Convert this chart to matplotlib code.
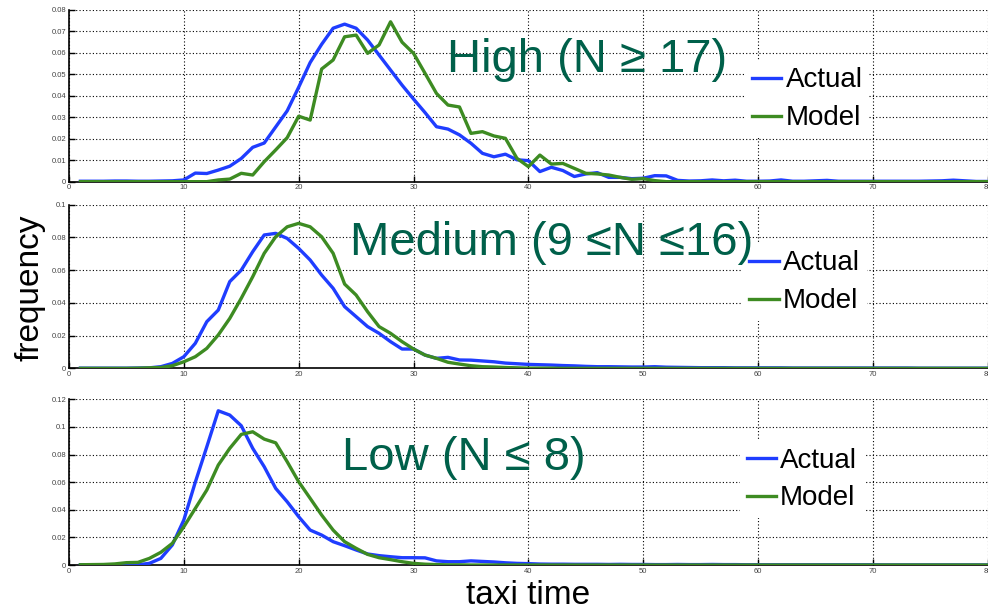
import numpy as np
import matplotlib
matplotlib.use("Agg")
from matplotlib import pyplot as plt

plt.rcParams["font.family"] = ["Liberation Sans", "DejaVu Sans"]

taxi_time = np.arange(1, 81)

high_actual = [
    0.0002, 0.0002, 0.0002, 0.0003, 0.0003, 0.0002, 0.0002, 0.0003, 0.0004, 0.0008,
    0.0040, 0.0038, 0.0054, 0.0072, 0.0108, 0.0160, 0.0180, 0.0255, 0.0330, 0.0440,
    0.0555, 0.0640, 0.0715, 0.0734, 0.0715, 0.0660, 0.0590, 0.0520, 0.0450, 0.0385,
    0.0322, 0.0256, 0.0245, 0.0218, 0.0179, 0.0132, 0.0116, 0.0128, 0.0102, 0.0098,
    0.0047, 0.0067, 0.0052, 0.0024, 0.0036, 0.0042, 0.0020, 0.0020, 0.0014, 0.0016,
    0.0028, 0.0027, 0.0006, 0.0003, 0.0004, 0.0008, 0.0004, 0.0007, 0.0002, 0.0002,
    0.0003, 0.0008, 0.0002, 0.0002, 0.0004, 0.0006, 0.0002, 0.0002, 0.0002, 0.0002,
    0.0002, 0.0002, 0.0002, 0.0002, 0.0003, 0.0004, 0.0007, 0.0004, 0.0001, 0.0001,
]
high_model = [
    0, 0, 0, 0, 0, 0, 0, 0, 0, 0,
    0, 0, 0.0008, 0.0012, 0.0039, 0.0031, 0.0093, 0.0148, 0.0205, 0.0305,
    0.0287, 0.0525, 0.0567, 0.0675, 0.0683, 0.0598, 0.0637, 0.0745, 0.0650, 0.0598,
    0.0505, 0.0411, 0.0357, 0.0348, 0.0225, 0.0233, 0.0213, 0.0202, 0.0109, 0.0070,
    0.0124, 0.0082, 0.0085, 0.0062, 0.0039, 0.0036, 0.0031, 0.0020, 0.0011, 0.0014,
    0.0005, 0, 0, 0, 0, 0, 0, 0, 0, 0,
    0, 0, 0, 0, 0, 0, 0, 0, 0, 0,
    0, 0, 0, 0, 0, 0, 0, 0, 0, 0,
]

med_actual = [
    0.0001, 0.0001, 0.0001, 0.0001, 0.0001, 0.0002, 0.0003, 0.0010, 0.0030, 0.0071,
    0.0153, 0.0285, 0.0356, 0.0530, 0.0600, 0.0713, 0.0815, 0.0825, 0.0794, 0.0733,
    0.0662, 0.0570, 0.0489, 0.0377, 0.0316, 0.0255, 0.0214, 0.0163, 0.0118, 0.0118,
    0.0081, 0.0061, 0.0067, 0.0051, 0.0050, 0.0045, 0.0040, 0.0032, 0.0028, 0.0024,
    0.0022, 0.0020, 0.0017, 0.0015, 0.0012, 0.0010, 0.0010, 0.0009, 0.0008, 0.0008,
    0.0010, 0.0007, 0.0006, 0.0005, 0.0004, 0.0004, 0.0004, 0.0003, 0.0003, 0.0003,
    0.0003, 0.0003, 0.0002, 0.0002, 0.0002, 0.0002, 0.0002, 0.0002, 0.0002, 0.0002,
    0.0002, 0.0002, 0.0002, 0.0001, 0.0001, 0.0001, 0.0001, 0.0001, 0.0001, 0.0001,
]
med_model = [
    0, 0, 0, 0, 0, 0.0001, 0.0003, 0.0005, 0.0016, 0.0040,
    0.0071, 0.0122, 0.0204, 0.0305, 0.0428, 0.0560, 0.0703, 0.0804, 0.0865, 0.0886,
    0.0865, 0.0804, 0.0703, 0.0515, 0.0448, 0.0346, 0.0255, 0.0214, 0.0163, 0.0118,
    0.0081, 0.0061, 0.0037, 0.0026, 0.0016, 0.0010, 0.0008, 0.0005, 0.0003, 0.0001,
    0.0001, 0.0001, 0, 0, 0, 0, 0, 0, 0, 0,
    0, 0, 0, 0, 0, 0, 0, 0, 0, 0,
    0, 0, 0, 0, 0, 0, 0, 0, 0, 0,
    0, 0, 0, 0, 0, 0, 0, 0, 0, 0,
]

low_actual = [
    0.0002, 0.0002, 0.0002, 0.0002, 0.0002, 0.0002, 0.0012, 0.0048, 0.0145, 0.0326,
    0.0600, 0.0856, 0.1117, 0.1086, 0.1009, 0.0845, 0.0712, 0.0555, 0.0458, 0.0350,
    0.0253, 0.0217, 0.0169, 0.0140, 0.0109, 0.0080, 0.0068, 0.0060, 0.0053, 0.0053,
    0.0052, 0.0030, 0.0024, 0.0024, 0.0030, 0.0026, 0.0022, 0.0016, 0.0012, 0.0010,
    0.0007, 0.0006, 0.0006, 0.0005, 0.0005, 0.0005, 0.0004, 0.0005, 0.0004, 0.0004,
    0.0003, 0.0003, 0.0004, 0.0003, 0.0003, 0.0004, 0.0003, 0.0003, 0.0002, 0.0002,
    0.0002, 0.0002, 0.0002, 0.0002, 0.0002, 0.0002, 0.0002, 0.0002, 0.0002, 0.0002,
    0.0001, 0.0001, 0.0001, 0.0001, 0.0001, 0.0001, 0.0001, 0.0001, 0.0001, 0.0001,
]
low_model = [
    0.0002, 0.0003, 0.0004, 0.0008, 0.0017, 0.0019, 0.0048, 0.0092, 0.0157, 0.0277,
    0.0410, 0.0543, 0.0724, 0.0845, 0.0946, 0.0965, 0.0912, 0.0885, 0.0748, 0.0603,
    0.0483, 0.0362, 0.0253, 0.0169, 0.0121, 0.0077, 0.0053, 0.0039, 0.0024, 0.0012,
    0.0006, 0.0003, 0.0001, 0.0001, 0, 0, 0, 0, 0, 0,
    0, 0, 0, 0, 0, 0, 0, 0, 0, 0,
    0, 0, 0, 0, 0, 0, 0, 0, 0, 0,
    0, 0, 0, 0, 0, 0, 0, 0, 0, 0,
    0, 0, 0, 0, 0, 0, 0, 0, 0, 0,
]

panels = [
    ("High (N \u2265 17)", high_actual, high_model, 0.08, 0.01),
    ("Medium (9 \u2264N \u226416)", med_actual, med_model, 0.1, 0.02),
    ("Low (N \u2264 8)", low_actual, low_model, 0.12, 0.02),
]

# axes boxes in figure fraction: left, bottom, width, height
boxes = [
    [0.0698, 0.7012, 0.930, 0.2824],
    [0.0698, 0.3942, 0.930, 0.2691],
    [0.0698, 0.0707, 0.930, 0.2725],
]
text_pos = [(0.411, 0.639), (0.306, 0.693), (0.297, 0.573)]
leg_pos = [(0.736, 0.706), (0.733, 0.763), (0.730, 0.751)]

blue = "#1f3dff"
green = "#3d8b22"
label_green = "#00604a"

fig = plt.figure(figsize=(9.88, 6.08), dpi=100)

for (label, actual, model, ymax, ystep), box, tp, lp in zip(panels, boxes, text_pos, leg_pos):
    ax = fig.add_axes(box)
    ax.plot(taxi_time, actual, color=blue, lw=2.4, label="Actual", zorder=3)
    ax.plot(taxi_time, model, color=green, lw=2.4, label="Model", zorder=3)
    ax.set_xlim(0, 80)
    ax.set_ylim(0, ymax)
    ax.set_xticks(np.arange(0, 81, 10))
    yt = np.arange(0, ymax + ystep / 2, ystep)
    ax.set_yticks(yt)
    ax.set_yticklabels(["%g" % round(v, 3) for v in yt])
    ax.grid(True, color="black", linestyle=(0, (1, 2)), linewidth=0.8)
    ax.set_axisbelow(True)
    for s in ["top", "right"]:
        ax.spines[s].set_visible(False)
    for s in ["left", "bottom"]:
        ax.spines[s].set_linewidth(1.2)
    ax.tick_params(direction="in", length=4, width=1, labelsize=5.5,
                   labelcolor="#444444", pad=2)
    ax.text(tp[0], tp[1], label, transform=ax.transAxes, fontsize=34,
            color=label_green, va="baseline", ha="left", zorder=5)
    leg = ax.legend(loc="upper left", bbox_to_anchor=lp, fontsize=20,
                    frameon=True, fancybox=False, framealpha=1,
                    facecolor="white", edgecolor="none", borderaxespad=0,
                    handlelength=1.05, handletextpad=0.15, labelspacing=0.43,
                    borderpad=0.25)
    leg.set_zorder(4)

fig.text(0.534, 0.02, "taxi time", fontsize=24, ha="center", va="center")
fig.text(0.03, 0.527, "frequency", fontsize=24, ha="center", va="center",
         rotation=90)

fig.savefig("out.png", dpi=100)
